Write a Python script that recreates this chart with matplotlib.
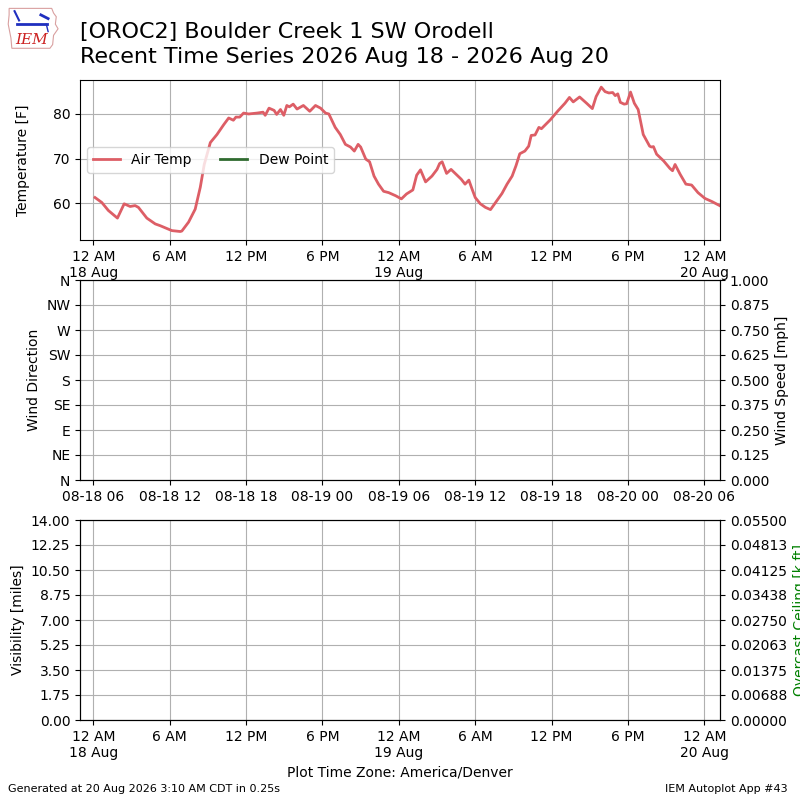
import datetime as dt
import matplotlib
matplotlib.use("Agg")
import matplotlib.pyplot as plt
import matplotlib.dates as mdates
from matplotlib.ticker import FuncFormatter
from matplotlib.patches import Polygon

# ---- data (hours after 2026-08-18 00:00 local, temperature F) ----
hours = [0.13, 0.66, 1.18, 1.89, 2.42, 2.89, 3.28, 3.54, 4.2, 4.86, 5.25, 6.17,
         6.82, 6.95, 7.48, 8.0, 8.4, 8.71, 9.19, 9.71, 10.24, 10.63, 11.0, 11.2,
         11.5, 11.8, 12.2, 12.86, 13.33, 13.5, 13.8, 14.2, 14.4, 14.7, 14.96, 15.2,
         15.4, 15.7, 16.0, 16.5, 17.0, 17.45, 17.85, 18.24, 18.5, 19.0, 19.4, 19.8,
         20.2, 20.5, 20.8, 21.0, 21.4, 21.7, 22.05, 22.4, 22.8, 23.2, 23.75, 24.2,
         24.6, 25.1, 25.4, 25.7, 26.1, 26.6, 27.0, 27.2, 27.4, 27.75, 28.1, 28.5,
         28.9, 29.2, 29.5, 29.7, 30.0, 30.4, 30.8, 31.2, 31.7, 32.1, 32.5, 32.9,
         33.2, 33.5, 33.9, 34.2, 34.4, 34.7, 35.0, 35.2, 35.9, 36.5, 37.05, 37.4,
         37.7, 38.2, 38.75, 39.2, 39.5, 39.9, 40.2, 40.5, 40.8, 41.0, 41.2, 41.4,
         41.7, 41.9, 42.2, 42.5, 42.8, 43.2, 43.7, 43.85, 44.0, 44.25, 44.8, 45.3,
         45.5, 45.7, 46.1, 46.55, 47.0, 47.5, 48.05, 48.6, 49.2]
temps = [61.3, 60.2, 58.4, 56.7, 59.9, 59.3, 59.5, 59.1, 56.7, 55.4, 55.0, 53.9,
         53.7, 53.8, 55.8, 58.7, 63.6, 68.7, 73.6, 75.4, 77.6, 79.1, 78.6, 79.3,
         79.3, 80.2, 80.0, 80.2, 80.4, 79.7, 81.3, 80.8, 79.9, 81.0, 79.7, 81.9,
         81.6, 82.2, 81.1, 81.9, 80.6, 81.9, 81.3, 80.2, 80.0, 77.0, 75.4, 73.2,
         72.6, 71.7, 73.2, 72.6, 69.9, 69.3, 66.1, 64.3, 62.7, 62.4, 61.7, 61.0,
         62.1, 63.0, 66.3, 67.5, 64.8, 66.1, 67.6, 68.9, 69.3, 66.7, 67.6, 66.5,
         65.4, 64.3, 65.2, 63.6, 61.3, 59.9, 59.1, 58.6, 60.6, 62.2, 64.3, 66.1,
         68.4, 71.1, 71.7, 72.8, 75.2, 75.3, 77.0, 76.7, 78.7, 80.7, 82.4, 83.7,
         82.7, 83.8, 82.4, 81.2, 83.9, 86.0, 85.0, 84.7, 84.8, 84.1, 84.5, 82.6,
         82.2, 82.3, 84.9, 82.4, 81.0, 75.4, 72.8, 72.6, 72.7, 71.0, 69.5, 67.8,
         67.3, 68.7, 66.5, 64.3, 64.1, 62.4, 61.1, 60.4, 59.5]
temp_ticks = [60, 70, 80]
dir_labels = ["N", "NE", "E", "SE", "S", "SW", "W", "NW", "N"]
title_lines = ["[OROC2] Boulder Creek 1 SW Orodell",
               "Recent Time Series 2026 Aug 18 - 2026 Aug 20"]

base = dt.datetime(2026, 8, 18, 0, 0)
times = [base + dt.timedelta(hours=h) for h in hours]
xmin = base + dt.timedelta(hours=-1.05)
xmax = base + dt.timedelta(hours=49.23)
utc_off = dt.timedelta(hours=6)

fig = plt.figure(figsize=(8, 8), dpi=100)

# ---- temperature panel ----
ax1 = fig.add_axes([0.1, 0.7, 0.8, 0.2])
ax1.plot(times, temps, color="#dd5e66", lw=2, label="Air Temp")
ax1.plot([], [], color="#2f6b2f", lw=2, label="Dew Point")
ax1.set_xlim(xmin, xmax)
ax1.set_ylim(51.8, 87.6)
ax1.set_yticks(temp_ticks)
ax1.set_ylabel("Temperature [F]", labelpad=16)
ax1.grid(True)
ax1.legend(loc="center left", ncol=2)


def local_fmt(x, pos=None):
    d = mdates.num2date(x)
    h = d.hour
    if h == 0:
        return "12 AM\n%d %s" % (d.day, d.strftime("%b"))
    if h == 12:
        return "12 PM"
    return "%d %s" % (h % 12, "AM" if h < 12 else "PM")


ax1.xaxis.set_major_locator(mdates.HourLocator(byhour=[0, 6, 12, 18]))
ax1.xaxis.set_major_formatter(FuncFormatter(local_fmt))

# ---- wind panel ----
ax2 = fig.add_axes([0.1, 0.4, 0.8, 0.25])
ax2.set_xlim(xmin + utc_off, xmax + utc_off)
ax2.set_ylim(0, 360)
ax2.set_yticks(range(0, 361, 45))
ax2.set_yticklabels(dir_labels)
ax2.set_ylabel("Wind Direction")
ax2.xaxis.set_major_locator(mdates.HourLocator(byhour=[0, 6, 12, 18]))
ax2.xaxis.set_major_formatter(mdates.DateFormatter("%m-%d %H"))
ax2.grid(True)
ax2b = ax2.twinx()
ax2b.set_ylim(0, 1)
ax2b.set_yticks([i * 0.125 for i in range(9)])
ax2b.yaxis.set_major_formatter(FuncFormatter(lambda v, p: "%.3f" % v))
ax2b.set_ylabel("Wind Speed [mph]")

# ---- visibility panel ----
ax3 = fig.add_axes([0.1, 0.1, 0.8, 0.25])
ax3.set_xlim(xmin, xmax)
ax3.set_ylim(0, 14)
ax3.set_yticks([i * 1.75 for i in range(9)])
ax3.yaxis.set_major_formatter(FuncFormatter(lambda v, p: "%.2f" % v))
ax3.set_ylabel("Visibility [miles]")
ax3.xaxis.set_major_locator(mdates.HourLocator(byhour=[0, 6, 12, 18]))
ax3.xaxis.set_major_formatter(FuncFormatter(local_fmt))
ax3.set_xlabel("Plot Time Zone: America/Denver")
ax3.grid(True)
ax3b = ax3.twinx()
ax3b.set_ylim(0, 0.055)
ax3b.set_yticks([i * 0.055 / 8 for i in range(9)])
ax3b.yaxis.set_major_formatter(FuncFormatter(lambda v, p: "%.5f" % v))
ax3b.set_ylabel("Overcast Ceiling [k ft]", color="green")

# ---- titles / footer ----
fig.text(0.1, 1 - 38 / 800, title_lines[0], fontsize=16, va="baseline", ha="left")
fig.text(0.1, 1 - 63 / 800, title_lines[1], fontsize=16, va="baseline", ha="left")
fig.text(0.01, 0.008, "Generated at 20 Aug 2026 3:10 AM CDT in 0.25s", fontsize=8,
         ha="left", va="bottom")
fig.text(0.985, 0.008, "IEM Autoplot App #43", fontsize=8, ha="right", va="bottom")

# ---- logo ----
lax = fig.add_axes([0.008, 0.935, 0.068, 0.058])
lax.set_xlim(0, 60)
lax.set_ylim(0, 50)
lax.axis("off")
outline = [(3, 47), (50, 47), (52, 42), (55, 38), (54, 30), (57, 25), (52, 18),
           (51, 8), (48, 4), (6, 4), (5, 15), (2, 30), (3, 40)]
lax.add_patch(Polygon(outline, closed=True, fill=False, ec="#d9a0a0", lw=0.8))
lax.plot([12, 45], [30, 30], color="#1f2fbf", lw=2)
lax.plot([9, 14], [44, 34], color="#1f2fbf", lw=1.5)
lax.plot([38, 46], [40, 36], color="#1f2fbf", lw=2)
lax.plot([44, 46], [30, 22], color="#1f2fbf", lw=1)
lax.text(28, 13, "IEM", color="#cc2222", fontsize=11, family="DejaVu Serif",
         style="italic", ha="center", va="center")

fig.savefig("out.png", dpi=100)
